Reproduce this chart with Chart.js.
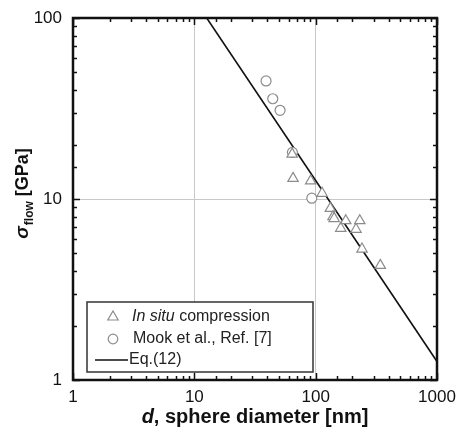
<!DOCTYPE html>
<html>
<head>
<meta charset="utf-8">
<script src="https://cdn.jsdelivr.net/npm/chart.js@4.4.0/dist/chart.umd.min.js"></script>
<style>
  html, body { margin: 0; padding: 0; background: #fff; }
</style>
</head>
<body>
<canvas id="myChart" width="456" height="433"></canvas>
<script>
// in situ compression tests
const insituD = [64, 65.1, 91, 113, 132, 139, 142, 161, 177, 215, 231, 241, 341];
const insituS = [17.7, 13.0, 12.6, 10.75, 8.88, 7.98, 7.8, 6.89, 7.59, 6.8, 7.59, 5.29, 4.3];
// Mook et al.
const mookD = [39, 44.3, 50.9, 64.3, 92.9];
const mookS = [44.9, 35.8, 30.9, 18.1, 10.1];
// Eq.(12)
const eqD = [12.65, 1000];
const eqS = [100, 1.265];

const xTickLabels = [1, 10, 100, 1000];
const yTickLabels = [1, 10, 100];
const seriesNames = ['In situ compression', 'Mook et al., Ref. [7]', 'Eq.(12)'];

const Chart = window.Chart;
const FONT = '"Liberation Sans", Arial, Helvetica, sans-serif';
const markerColor = '#8c8c8c';

const isDecade = v => Math.abs(Math.log10(v) - Math.round(Math.log10(v))) < 1e-9;
const toPoints = (xs, ys) => xs.map((x, i) => ({x: x, y: ys[i]}));

const frameTicks = {
  id: 'frameTicks',
  afterDatasetsDraw(chart) {
    const ctx = chart.ctx;
    const ca = chart.chartArea;
    const xs = chart.scales.x;
    const ys = chart.scales.y;
    ctx.save();
    ctx.strokeStyle = '#111';
    ctx.lineWidth = 1.5;
    ctx.beginPath();
    for (const t of xs.ticks) {
      const px = Math.round(xs.getPixelForValue(t.value)) + 0.5;
      const len = isDecade(t.value) ? 7 : 4;
      ctx.moveTo(px, ca.bottom); ctx.lineTo(px, ca.bottom - len);
      ctx.moveTo(px, ca.top); ctx.lineTo(px, ca.top + len);
    }
    for (const t of ys.ticks) {
      const py = Math.round(ys.getPixelForValue(t.value)) + 0.5;
      const len = isDecade(t.value) ? 7 : 4;
      ctx.moveTo(ca.left, py); ctx.lineTo(ca.left + len, py);
      ctx.moveTo(ca.right, py); ctx.lineTo(ca.right - len, py);
    }
    ctx.stroke();
    ctx.lineWidth = 2.5;
    ctx.strokeRect(ca.left, ca.top, ca.right - ca.left, ca.bottom - ca.top);
    ctx.restore();
  },
  afterDraw(chart) {
    const ctx = chart.ctx;
    const ca = chart.chartArea;
    ctx.save();
    ctx.fillStyle = '#111';
    // x title
    const xMid = (ca.left + ca.right) / 2;
    const partA = 'd';
    const partB = ', sphere diameter [nm]';
    ctx.font = 'italic bold 20px ' + FONT;
    const wa = ctx.measureText(partA).width;
    ctx.font = 'bold 20px ' + FONT;
    const wb = ctx.measureText(partB).width;
    const x0 = xMid - (wa + wb) / 2;
    ctx.textBaseline = 'middle';
    ctx.textAlign = 'left';
    ctx.font = 'italic bold 20px ' + FONT;
    ctx.fillText(partA, x0, 417);
    ctx.font = 'bold 20px ' + FONT;
    ctx.fillText(partB, x0 + wa, 417);
    // y title
    ctx.translate(22, (ca.top + ca.bottom) / 2 - 5);
    ctx.rotate(-Math.PI / 2);
    ctx.font = 'italic bold 19px ' + FONT;
    const w1 = ctx.measureText('\u03c3').width;
    ctx.font = 'bold 12px ' + FONT;
    const w2 = ctx.measureText('flow').width;
    ctx.font = 'bold 18px ' + FONT;
    const w3 = ctx.measureText(' [GPa]').width;
    const y0 = -(w1 + w2 + w3) / 2;
    ctx.textBaseline = 'alphabetic';
    ctx.font = 'italic bold 19px ' + FONT;
    ctx.fillText('\u03c3', y0, 6);
    ctx.font = 'bold 12px ' + FONT;
    ctx.fillText('flow', y0 + w1 + 1, 11);
    ctx.font = 'bold 18px ' + FONT;
    ctx.fillText(' [GPa]', y0 + w1 + w2 + 1, 6);
    ctx.restore();

    // legend
    ctx.save();
    const bx = ca.left + 14, by = ca.bottom - 78, bw = 226, bh = 70;
    ctx.fillStyle = '#fff';
    ctx.fillRect(bx, by, bw, bh);
    ctx.strokeStyle = '#333';
    ctx.lineWidth = 1.5;
    ctx.strokeRect(bx, by, bw, bh);
    const rows = [by + 15, by + 37, by + 58];
    const mx = bx + 26;
    ctx.strokeStyle = markerColor; ctx.fillStyle = '#fff'; ctx.lineWidth = 1.2;
    Chart.helpers.drawPoint(ctx, {pointStyle: 'triangle', radius: 6, borderWidth: 1.2}, mx, rows[0]);
    Chart.helpers.drawPoint(ctx, {pointStyle: 'circle', radius: 4.8, borderWidth: 1.2}, mx, rows[1]);
    ctx.strokeStyle = '#111'; ctx.lineWidth = 1.3;
    ctx.beginPath();
    ctx.moveTo(bx + 8, rows[2]); ctx.lineTo(bx + 41, rows[2]);
    ctx.stroke();
    ctx.fillStyle = '#222';
    ctx.textBaseline = 'middle';
    ctx.textAlign = 'left';
    const tx = bx + 45;
    const lead = 'In situ';
    const name0 = seriesNames[0];
    ctx.font = 'italic 16px ' + FONT;
    ctx.fillText(lead, tx, rows[0]);
    const wl = ctx.measureText(lead).width;
    ctx.font = '16px ' + FONT;
    ctx.fillText(name0.slice(lead.length), tx + wl, rows[0]);
    ctx.fillText(seriesNames[1], tx + 1, rows[1]);
    ctx.fillText(seriesNames[2], bx + 42, rows[2]);
    ctx.restore();
  }
};

const ctx = document.getElementById('myChart').getContext('2d');
new Chart(ctx, {
  type: 'scatter',
  data: {
    datasets: [
      {
        label: seriesNames[0],
        data: toPoints(insituD, insituS),
        pointStyle: 'triangle',
        pointRadius: 6,
        borderColor: markerColor,
        backgroundColor: '#fff',
        borderWidth: 1.2
      },
      {
        label: seriesNames[1],
        data: toPoints(mookD, mookS),
        pointStyle: 'circle',
        pointRadius: 5,
        borderColor: markerColor,
        backgroundColor: '#fff',
        borderWidth: 1.2
      },
      {
        type: 'line',
        label: seriesNames[2],
        data: toPoints(eqD, eqS),
        borderColor: '#111',
        borderWidth: 1.6,
        pointRadius: 0,
        fill: false,
        tension: 0
      }
    ]
  },
  options: {
    responsive: false,
    animation: false,
    devicePixelRatio: 1,
    layout: {padding: {left: 0, right: 19, top: 18, bottom: 0}},
    plugins: {legend: {display: false}, tooltip: {enabled: false}},
    scales: {
      x: {
        type: 'logarithmic',
        min: 1,
        max: 1000,
        afterFit(scale) {
          scale.height = 53;
          scale.paddingLeft = 0;
          scale.paddingRight = 0;
        },
        border: {display: false},
        grid: {
          drawTicks: false,
          color: c => (c.tick && isDecade(c.tick.value) && c.tick.value > 1 && c.tick.value < 1000) ? '#c8c8c8' : 'rgba(0,0,0,0)',
          lineWidth: 1
        },
        ticks: {
          autoSkip: false,
          maxRotation: 0,
          padding: 7,
          color: '#111',
          font: {family: FONT, size: 17},
          callback: v => xTickLabels.includes(v) ? String(v) : ''
        }
      },
      y: {
        type: 'logarithmic',
        min: 1,
        max: 100,
        afterFit(scale) {
          scale.width = 73;
          scale.paddingTop = 0;
          scale.paddingBottom = 0;
        },
        border: {display: false},
        grid: {
          drawTicks: false,
          color: c => (c.tick && isDecade(c.tick.value) && c.tick.value > 1 && c.tick.value < 100) ? '#c8c8c8' : 'rgba(0,0,0,0)',
          lineWidth: 1
        },
        ticks: {
          autoSkip: false,
          padding: 11,
          color: '#111',
          font: {family: FONT, size: 17},
          callback: v => yTickLabels.includes(v) ? String(v) : ''
        }
      }
    }
  },
  plugins: [frameTicks]
});
</script>
</body>
</html>
